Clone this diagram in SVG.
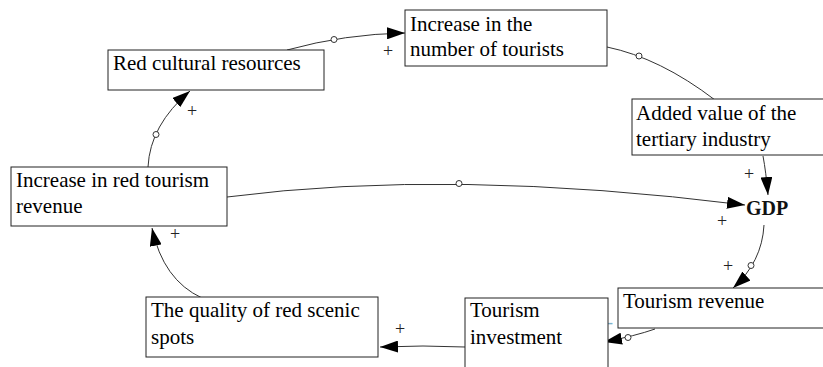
<svg xmlns="http://www.w3.org/2000/svg" width="823" height="367" viewBox="0 0 823 367">
<style>
.box{fill:#fff;stroke:#222;stroke-width:1}
.lbl{font-family:"Liberation Serif","Times New Roman",serif;font-size:21px;fill:#000}
.gdp{font-family:"Liberation Serif","Times New Roman",serif;font-size:20px;font-weight:bold;fill:#111}
.link{fill:none;stroke:#333;stroke-width:1}
.arr{marker-end:url(#ah)}
.dot{fill:#fff;stroke:#333;stroke-width:1}
.sign{font-family:"Liberation Serif","Times New Roman",serif;font-size:18px;fill:#222;text-anchor:middle}
.neg{fill:#7fb3cc}
</style>
<defs>
<marker id="ah" markerUnits="userSpaceOnUse" markerWidth="18" markerHeight="12" refX="18" refY="6" orient="auto">
<path d="M0,0 L18,6 L0,12 Z" fill="#000"/>
</marker>
</defs>
<g id="connectors">
<path class="link arr" d="M287,50 Q345,34 405,33"/>
<circle class="dot" cx="334" cy="39.5" r="3"/>
<path class="link" d="M607,47 Q660,58 715,100"/>
<circle class="dot" cx="639" cy="56" r="3"/>
<path class="link arr" d="M763,156 Q766,172 768,195"/>
<path class="link arr" d="M227,197 Q450,168 745,205"/>
<circle class="dot" cx="459" cy="183.5" r="3"/>
<path class="link arr" d="M764,225 Q762,262 733,288"/>
<circle class="dot" cx="751" cy="265.5" r="3"/>
<path class="link arr" d="M655,329 Q635,336 604,342"/>
<circle class="dot" cx="628" cy="337.5" r="3"/>
<path class="link arr" d="M465,347 L423,346 L380,347"/>
<path class="link arr" d="M202,298 Q163,280 152,228"/>
<path class="link arr" d="M148,167 Q150,125 190,91"/>
<circle class="dot" cx="156" cy="134.5" r="3"/>
<text class="sign" x="388" y="57">+</text>
<text class="sign" x="192" y="117">+</text>
<text class="sign" x="749" y="180">+</text>
<text class="sign" x="722" y="227">+</text>
<text class="sign" x="728" y="272">+</text>
<text class="sign" x="400" y="335">+</text>
<text class="sign" x="175" y="240">+</text>
<text class="sign neg" x="610" y="328">-</text>
</g>
<g id="red-cultural-resources">
<rect class="box" x="108" y="50" width="216" height="40"/>
<text class="lbl" x="113" y="70">Red cultural resources</text>
</g>
<g id="increase-number-tourists">
<rect class="box" x="405" y="10" width="202" height="56"/>
<text class="lbl" x="410" y="31">Increase in the</text>
<text class="lbl" x="410" y="56">number of tourists</text>
</g>
<g id="added-value-tertiary">
<rect class="box" x="632" y="99" width="200" height="56"/>
<text class="lbl" x="636" y="120">Added value of the</text>
<text class="lbl" x="636" y="146">tertiary industry</text>
</g>
<g id="gdp">
<text class="gdp" x="746" y="215">GDP</text>
</g>
<g id="tourism-revenue">
<rect class="box" x="618" y="288" width="215" height="40"/>
<text class="lbl" x="623" y="308">Tourism revenue</text>
</g>
<g id="tourism-investment">
<rect class="box" x="465" y="298" width="143" height="80"/>
<text class="lbl" x="470" y="317">Tourism</text>
<text class="lbl" x="470" y="344">investment</text>
</g>
<g id="quality-red-scenic">
<rect class="box" x="146" y="297" width="232" height="60"/>
<text class="lbl" x="151" y="317">The quality of red scenic</text>
<text class="lbl" x="151" y="344">spots</text>
</g>
<g id="increase-red-tourism-revenue">
<rect class="box" x="11" y="167" width="216" height="59"/>
<text class="lbl" x="16" y="187">Increase in red tourism</text>
<text class="lbl" x="16" y="213">revenue</text>
</g>
</svg>
